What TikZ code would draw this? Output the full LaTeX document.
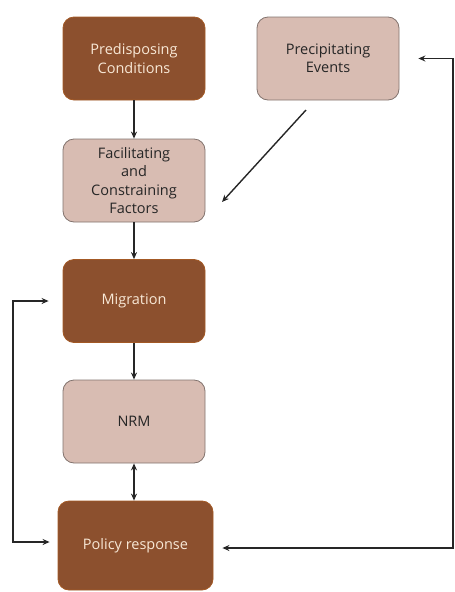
\documentclass[tikz,border=0pt]{standalone}
\usepackage{fontspec}
\setmainfont{Open Sans}
\usetikzlibrary{arrows.meta}

\definecolor{darkbrown}{RGB}{140,80,46}
\definecolor{lightbrown}{RGB}{216,188,178}
\definecolor{greyline}{RGB}{130,115,110}
\definecolor{creamtext}{RGB}{248,232,214}

\begin{document}
\begin{tikzpicture}[x=1pt,y=-1pt,
  darkbox/.style={draw=darkbrown!80!orange,fill=darkbrown,rounded corners=11pt,
    minimum width=142pt,minimum height=83pt,text=creamtext,align=center,
    font=\fontsize{14.5}{19}\selectfont,line width=0.8pt},
  lightbox/.style={draw=greyline,fill=lightbrown,rounded corners=11pt,
    minimum width=142pt,minimum height=83pt,text=black!85,align=center,
    font=\fontsize{14.5}{18.3}\selectfont,line width=0.8pt,inner sep=2pt},
  link/.style={-{Stealth[length=7pt,width=6pt]},line width=1.4pt,black!85},
  twolink/.style={{Stealth[length=7pt,width=6pt]}-{Stealth[length=7pt,width=6pt]},line width=1.4pt,black!85}]
\useasboundingbox (0,0) rectangle (455,592);
\node[darkbox] (pre) at (134,58.5) {Predisposing\\Conditions};
\node[lightbox] (prec) at (328,58.5) {Precipitating\\Events};
\node[lightbox] (fac) at (134,180.5) {Facilitating\\and\\Constraining\\Factors};
\node[darkbox] (mig) at (134,301) {Migration};
\node[lightbox] (nrm) at (134,421.5) {NRM};
\node[darkbox,minimum width=155pt,minimum height=89pt] (pol) at (135.5,545.5) {Policy response};
% free ends
\coordinate (diagA) at (306,110);
\coordinate (diagB) at (222,202);
\coordinate (rgt) at (453,548);
\coordinate (lft) at (13,542);
% main chain
\draw[link] (pre.south) -- (fac.north);
\draw[link] (fac.south) -- (mig.north);
\draw[link] (mig.south) -- (nrm.north);
\draw[twolink] (nrm.south) -- (nrm.south |- pol.north);
\draw[link] (diagA) -- (diagB);
% feedback loops
\draw[twolink] ([xshift=19pt]prec.east) -| (rgt) -- ([xshift=9pt]pol.east |- rgt);
\draw[twolink] ([xshift=-14pt]mig.west) -| (lft) -- ([xshift=-8pt]pol.west |- lft);
\end{tikzpicture}
\end{document}
